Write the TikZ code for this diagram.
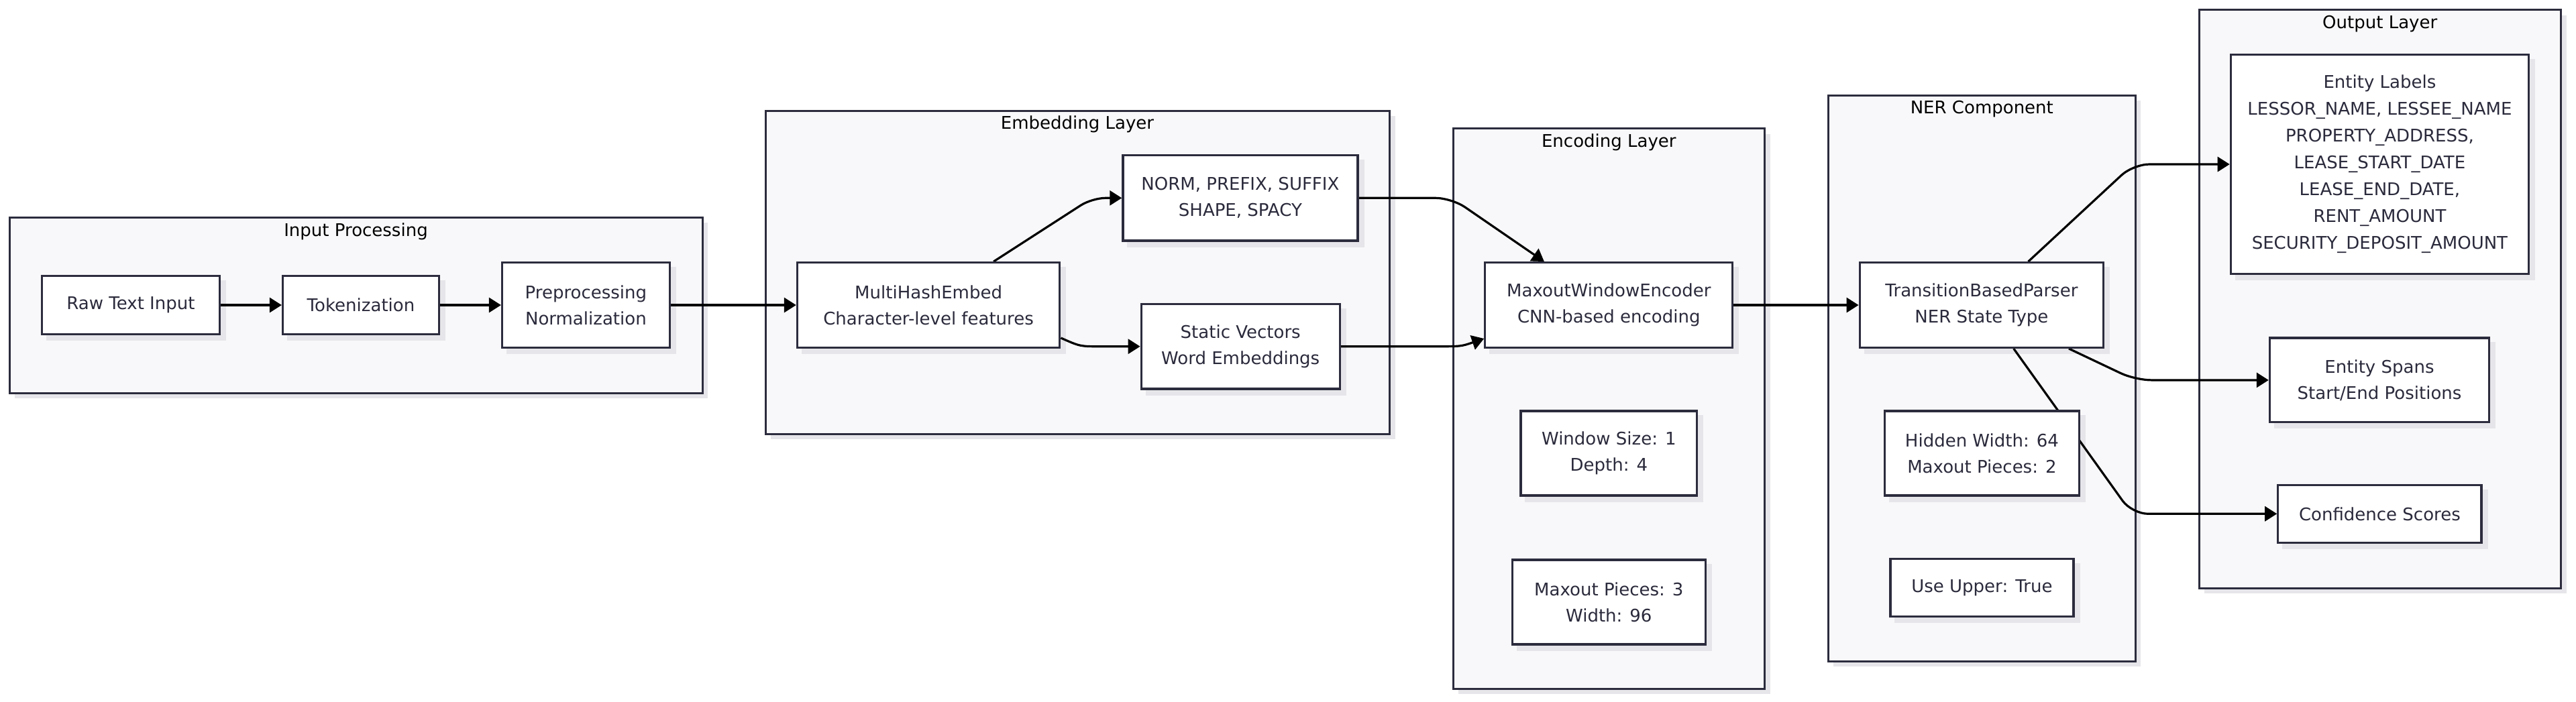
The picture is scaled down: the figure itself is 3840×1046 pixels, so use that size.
\documentclass[tikz,border=0pt]{standalone}
\usepackage{fontspec}
\setmainfont{DejaVu Sans}
\usetikzlibrary{arrows.meta,shadows}
\definecolor{clfill}{HTML}{F8F8FA}
\definecolor{bordc}{HTML}{2C2C3E}
\definecolor{txtc}{HTML}{2A2A3C}
\definecolor{shadc}{HTML}{E6E6EA}
\pgfdeclarelayer{bg}
\pgfdeclarelayer{shad}
\pgfdeclarelayer{edges}
\pgfsetlayers{bg,shad,edges,main}
\tikzset{
  box/.style={draw=bordc, line width=1.6pt, fill=white, inner sep=0pt, align=center,
    text=txtc, font=\fontsize{13}{19.5}\selectfont},
  cluster/.style={draw=bordc, line width=1.5pt, fill=clfill,
    drop shadow={shadow xshift=4pt, shadow yshift=-4pt, fill=shadc, opacity=1}},
  ctitle/.style={text=black, font=\fontsize{13}{19.5}\selectfont, inner sep=0pt},
  edge/.style={draw=black, line width=1.6pt, -{Triangle[length=9pt,width=11pt]}},
}
\begin{document}
\begin{tikzpicture}[x=0.5pt,y=-0.5pt]
\useasboundingbox (0,0) rectangle (3840,1046);
% clusters
\begin{pgfonlayer}{bg}
  \path[cluster] (14,324) rectangle (1047,586);
  \node[ctitle] (tIn) at (530.5,345) {Input Processing};
  \path[cluster] (1141,165) rectangle (2071.6,647);
  \node[ctitle] (tEmb) at (1606,185) {Embedding Layer};
  \path[cluster] (2166,191.5) rectangle (2630.5,1027);
  \node[ctitle] (tEnc) at (2398.3,212) {Encoding Layer};
  \path[cluster] (2725.3,142) rectangle (3183.4,986);
  \node[ctitle] (tNer) at (2954.3,162.5) {NER Component};
  \path[cluster] (3278,14.5) rectangle (3817.5,877);
  \node[ctitle] (tOut) at (3547.7,35.5) {Output Layer};
\end{pgfonlayer}
% nodes
\node[box, minimum width=132.6pt, minimum height=43.3pt] (raw) at (195,455) {Raw Text Input};
\node[box, minimum width=116.5pt, minimum height=43.3pt] (tok) at (538,455) {Tokenization};
\node[box, minimum width=124.9pt, minimum height=63.3pt] (pre) at (873.4,455) {Preprocessing\\Normalization};
\node[box, minimum width=195.7pt, minimum height=63.3pt] (mhe) at (1384.1,455) {MultiHashEmbed\\Character-level features};
\node[box, minimum width=175pt, minimum height=63.6pt] (norm) at (1848.9,295.3) {NORM, PREFIX, SUFFIX\\SHAPE, SPACY};
\node[box, minimum width=148pt, minimum height=63.3pt] (static) at (1849.2,516.7) {Static Vectors\\Word Embeddings};
\node[box, minimum width=184.5pt, minimum height=63.3pt] (mwe) at (2398.3,455) {MaxoutWindowEncoder\\CNN-based encoding};
\node[box, minimum width=131.25pt, minimum height=63pt] (win) at (2398.3,676) {Window Size: 1\\Depth: 4};
\node[box, minimum width=143.8pt, minimum height=63pt] (mp3) at (2398.3,898) {Maxout Pieces: 3\\Width: 96};
\node[box, minimum width=181.7pt, minimum height=63.3pt] (tbp) at (2953.9,455) {TransitionBasedParser\\NER State Type};
\node[box, minimum width=145pt, minimum height=63pt] (hid) at (2954.4,676) {Hidden Width: 64\\Maxout Pieces: 2};
\node[box, minimum width=136.5pt, minimum height=43pt] (upper) at (2954.4,876.3) {Use Upper: True};
\node[box, minimum width=222.1pt, minimum height=163.6pt, font=\fontsize{13}{20}\selectfont] (labels) at (3547.4,245) {Entity Labels\\LESSOR\_NAME, LESSEE\_NAME\\PROPERTY\_ADDRESS,\\LEASE\_START\_DATE\\LEASE\_END\_DATE,\\RENT\_AMOUNT\\SECURITY\_DEPOSIT\_AMOUNT};
\node[box, minimum width=163.6pt, minimum height=62.85pt] (spans) at (3547,566.9) {Entity Spans\\Start/End Positions};
\node[box, minimum width=151.6pt, minimum height=43pt] (conf) at (3547.4,766.3) {Confidence Scores};
% node shadows
\begin{pgfonlayer}{shad}
  \foreach \n in {raw,tok,pre,mhe,norm,static,mwe,win,mp3,tbp,hid,upper,labels,spans,conf}
    \fill[shadc] ([shift={(4pt,-4pt)}]\n.south west) rectangle ([shift={(4pt,-4pt)}]\n.north east);
\end{pgfonlayer}
% edges
\begin{pgfonlayer}{edges}
  \draw[edge] (raw.east) -- (tok.west);
  \draw[edge] (tok.east) -- (pre.west);
  \draw[edge] (pre.east) -- (mhe.west);
  \draw[edge, rounded corners=10pt] ([xshift=48.5pt]mhe.north) -- (1628,295.3) -- (norm.west);
  \draw[edge] ([yshift=-24.5pt]mhe.east) .. controls (1610,516.7) .. (1640,516.7) -- (static.west);
  \draw[edge, rounded corners=12pt] (norm.east) -- (2164,295.3) -- ([xshift=-48.2pt]mwe.north);
  \draw[edge] (static.east) -- (2140,516.7) .. controls (2178,516.7) .. ([yshift=-25pt]mwe.west);
  \draw[edge] (mwe.east) -- (tbp.west);
  \draw[edge, rounded corners=12pt] ([xshift=34.8pt]tbp.north) -- (3180,245) -- (labels.west);
  \draw[edge, rounded corners=12pt] ([xshift=65pt]tbp.south) -- (3183,566.9) -- (spans.west);
  \draw[edge, rounded corners=12pt] ([xshift=23.9pt]tbp.south) -- (3178,766.3) -- (conf.west);
\end{pgfonlayer}
\end{tikzpicture}
\end{document}
